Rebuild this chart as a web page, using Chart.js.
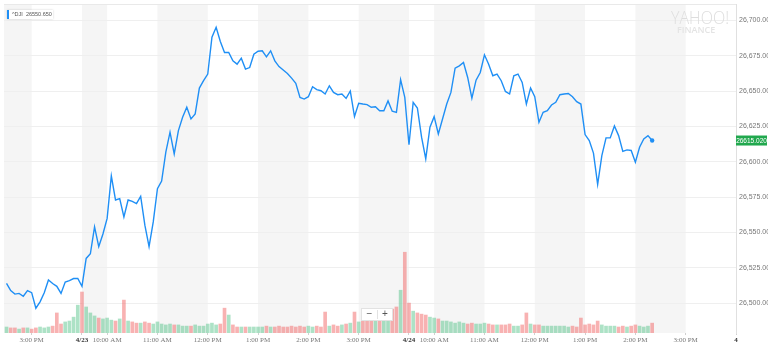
<!DOCTYPE html>
<html>
<head>
<meta charset="utf-8">
<script src="https://cdn.jsdelivr.net/npm/chart.js@4.4.1/dist/chart.umd.min.js"></script>
<style>
  html, body { margin: 0; padding: 0; background: #fff; }
  canvas { display: block; }
</style>
</head>
<body>
<canvas id="dji" width="768" height="345"></canvas>
<script>
// ^DJI two-day intraday view, 5-minute points on a trading-hours axis
// (0 = 3:00 PM on 4/22, overnight gaps collapsed)
const symbol = "^DJI";
const legendValue = "26550.650";

const stepHours = 5 / 60;
const day0Start = -0.5; // 2:30 PM 4/22
const day1Start = 1;    // 9:30 AM 4/23
const day2Start = 7.5;  // 9:30 AM 4/24

const day0Prices = [
  26514, 26509, 26506.5, 26507, 26505, 26509, 26507.5, 26496.5, 26501,
  26507.5, 26516.5, 26514, 26512, 26507, 26515, 26516, 26517.5, 26517.5,
];
const day1Prices = [
  26512, 26531.7, 26535, 26554, 26540, 26549, 26560, 26590, 26573, 26574,
  26561, 26573, 26572, 26570.4, 26575.6, 26555.2, 26540, 26557.5, 26581, 26586.4,
  26606.8, 26620.9, 26605.6, 26622, 26631.4, 26638.5, 26630.3, 26633.8, 26652.1, 26657.3,
  26662, 26688, 26695, 26685, 26677.2, 26677.2, 26671.3, 26669, 26673.2, 26665.5,
  26666.6, 26676, 26678.1, 26678.4, 26674.2, 26678.4, 26671.3, 26667.3, 26664.8, 26662.4,
  26659.1, 26655.4, 26645.5, 26644.3, 26646, 26653, 26651, 26650.2, 26647.9, 26653.7,
  26649, 26647.4, 26647.9, 26644.8, 26650, 26632, 26641.3, 26640.8, 26640.4, 26638.5,
  26638.9, 26636.1, 26636.1, 26643, 26635.7, 26634.9, 26658, 26645.5,
];
const day2Prices = [
  26612, 26642, 26638, 26617.4, 26602, 26624.4, 26631.9, 26619.7, 26630.2, 26640.8,
  26649, 26666.2, 26667.8, 26670.2, 26659.6, 26645, 26657.7, 26663.1, 26675.6, 26669,
  26660.8, 26662, 26657.3, 26649.7, 26647.9, 26660.8, 26662, 26656.1, 26640.8, 26652.1,
  26646, 26627.9, 26635, 26636.1, 26640.1, 26642, 26647.4, 26647.9, 26648.3, 26646,
  26642.5, 26640.8, 26619.2, 26615, 26606.1, 26584, 26604.4, 26616.9, 26616.9, 26625.3,
  26618.5, 26607.3, 26608.4, 26608, 26599.7, 26610.3, 26616.2, 26618.5, 26615.02,
];

// volume, millions of shares per bar
const day0Volume = [
  2.0, 1.7, 1.7, 1.3, 1.7, 1.7, 1.3, 1.7, 2.0, 1.7, 2.0, 2.3, 6.7, 3.0, 3.7, 4.0, 5.3, 9.3,
];
const day1Volume = [
  13.7, 8.7, 6.7, 5.7, 5.0, 4.7, 5.0, 4.3, 4.0, 4.7,
  11.0, 4.0, 3.7, 3.3, 3.3, 3.7, 3.3, 3.0, 3.7, 3.0,
  2.7, 3.0, 2.7, 2.7, 2.3, 2.3, 2.3, 2.7, 2.3, 2.3,
  3.0, 3.3, 2.7, 3.0, 8.3, 6.0, 2.7, 2.0, 2.0, 2.0,
  2.0, 2.0, 2.0, 2.0, 2.3, 2.0, 2.0, 2.3, 2.0, 2.0,
  2.3, 2.0, 2.3, 2.0, 2.3, 2.0, 2.3, 2.0, 7.0, 2.3,
  2.7, 2.3, 2.7, 3.0, 3.3, 7.0, 3.7, 4.0, 4.0, 4.3,
  4.7, 5.0, 5.3, 6.7, 8.0, 8.7, 14.3, 27.0,
];
const day2Volume = [
  10.0, 7.3, 6.7, 6.3, 6.0, 5.3, 5.0, 4.7, 4.0, 4.0,
  3.7, 3.3, 3.7, 3.3, 3.0, 3.3, 3.0, 3.0, 3.3, 3.0,
  2.7, 2.7, 2.7, 2.7, 3.0, 2.3, 2.3, 2.7, 6.7, 3.0,
  2.7, 2.7, 2.3, 2.3, 2.3, 2.3, 2.3, 2.3, 2.0, 2.3,
  2.0, 5.0, 2.7, 3.0, 2.7, 4.0, 2.7, 2.3, 2.3, 2.3,
  2.0, 2.3, 2.0, 2.3, 2.7, 2.3, 2.0, 2.3, 3.3,
];

const tickHours = [0, 1, 1.5, 2.5, 3.5, 4.5, 5.5, 6.5, 7.5, 8, 9, 10, 11, 12, 13, 14];
const tickLabels = [
  "3:00 PM", "4/23", "10:00 AM", "11:00 AM", "12:00 PM", "1:00 PM", "2:00 PM", "3:00 PM",
  "4/24", "10:00 AM", "11:00 AM", "12:00 PM", "1:00 PM", "2:00 PM", "3:00 PM", "4",
];
const dateTicks = ["4/23", "4/24", "4"];
const priceTicks = [26500, 26525, 26550, 26575, 26600, 26625, 26650, 26675, 26700];

const sessions = [
  [day0Start, day0Prices, day0Volume],
  [day1Start, day1Prices, day1Volume],
  [day2Start, day2Prices, day2Volume],
];

const pricePoints = [];
const volumePoints = [];
const volumeColors = [];
sessions.forEach(([start, prices, volumes]) => {
  prices.forEach((p, i) => {
    const x = start + i * stepHours;
    const prev = pricePoints.length ? pricePoints[pricePoints.length - 1].y : p;
    pricePoints.push({ x, y: p });
    volumePoints.push({ x, y: volumes[i] });
    volumeColors.push(p >= prev ? "rgba(60, 185, 120, 0.42)" : "rgba(240, 95, 95, 0.48)");
  });
});
const lastPrice = pricePoints[pricePoints.length - 1].y;

// alternating hour columns behind the plot
const bandsPlugin = {
  id: "bands",
  beforeDraw(chart) {
    const { ctx, chartArea: a, scales } = chart;
    const x = scales.x;
    ctx.save();
    ctx.fillStyle = "#fff";
    ctx.fillRect(0, 0, chart.width, chart.height);
    const edges = [x.min, ...tickHours.filter((h) => h < x.max), x.max];
    ctx.fillStyle = "#f5f5f5";
    for (let i = 0; i < edges.length - 1; i += 2) {
      const l = x.getPixelForValue(edges[i]);
      const r = x.getPixelForValue(edges[i + 1]);
      ctx.fillRect(l, a.top, r - l, a.bottom - a.top);
    }
    ctx.strokeStyle = "#e9e9e9";
    ctx.lineWidth = 1;
    ctx.beginPath();
    ctx.moveTo(a.left, a.top + 0.5);
    ctx.lineTo(a.right, a.top + 0.5);
    ctx.stroke();
    ctx.restore();
  },
};

// watermark, legend chip, last price tag, zoom buttons
const overlayPlugin = {
  id: "overlay",
  afterDraw(chart) {
    const { ctx, scales } = chart;
    ctx.save();

    ctx.fillStyle = "#dedede";
    ctx.textBaseline = "alphabetic";
    ctx.textAlign = "left";
    ctx.font = "300 19px 'Open Sans'";
    ctx.fillText("YAHOO!", 671, 24, 58);
    ctx.fillStyle = "#e4e4e4";
    ctx.font = "600 9px 'Open Sans'";
    ctx.fillText("FINANCE", 677, 33, 47);

    ctx.shadowColor = "rgba(0,0,0,0.18)";
    ctx.shadowBlur = 2;
    ctx.fillStyle = "#fff";
    ctx.fillRect(7, 10, 46, 9);
    ctx.shadowBlur = 0;
    ctx.fillStyle = "#1f8ff5";
    ctx.fillRect(7, 10, 2, 9);
    ctx.fillStyle = "#555";
    ctx.font = "5.5px 'Liberation Sans'";
    ctx.textBaseline = "middle";
    ctx.fillText(symbol + "  " + legendValue, 12, 14.8);

    const py = scales.y.getPixelForValue(lastPrice);
    ctx.fillStyle = "#21a84e";
    ctx.fillRect(736, py - 5, 31, 10);
    ctx.fillStyle = "#fff";
    ctx.font = "6.5px 'Liberation Sans'";
    ctx.textAlign = "center";
    ctx.fillText(lastPrice.toFixed(3), 751.5, py + 0.3);

    ctx.fillStyle = "#fff";
    ctx.strokeStyle = "#e2e2e2";
    ctx.fillRect(361, 308, 32, 13);
    ctx.strokeRect(361.5, 308.5, 31, 12);
    ctx.beginPath();
    ctx.moveTo(377.5, 310);
    ctx.lineTo(377.5, 319);
    ctx.stroke();
    ctx.fillStyle = "#555";
    ctx.font = "10px 'Liberation Sans'";
    ctx.fillText("\u2212", 369.5, 314.5);
    ctx.fillText("+", 385, 314.5);

    ctx.restore();
  },
};

new Chart(document.getElementById("dji"), {
  type: "line",
  data: {
    datasets: [
      {
        type: "line",
        data: pricePoints,
        yAxisID: "y",
        borderColor: "#1f8ff5",
        borderWidth: 1.4,
        tension: 0,
        pointRadius: (c) => (c.dataIndex === pricePoints.length - 1 ? 2.2 : 0),
        pointBackgroundColor: "#1f8ff5",
        pointBorderWidth: 0,
        order: 0,
      },
      {
        type: "bar",
        data: volumePoints,
        yAxisID: "vol",
        backgroundColor: volumeColors,
        barThickness: 3,
        order: 1,
      },
    ],
  },
  options: {
    responsive: false,
    animation: false,
    layout: { padding: { top: 3, left: 0 } },
    plugins: {
      legend: { display: false },
      tooltip: { enabled: false },
    },
    scales: {
      x: {
        type: "linear",
        min: -0.55,
        max: 14,
        offset: false,
        afterBuildTicks: (scale) => {
          scale.ticks = tickHours.map((value) => ({ value }));
        },
        afterFit: (scale) => {
          scale.height = 12;
          scale.paddingLeft = 0;
          scale.paddingRight = 0;
        },
        grid: { offset: false, drawOnChartArea: false, drawTicks: true, tickLength: 2, color: "#d0d0d0" },
        border: { display: false },
        ticks: {
          autoSkip: false,
          maxRotation: 0,
          padding: 1,
          callback: (value, index) => tickLabels[index],
          color: (c) => (dateTicks.includes(tickLabels[c.index]) ? "#333" : "#777"),
          font: (c) => ({
            family: "'Liberation Serif'",
            size: 7,
            weight: dateTicks.includes(tickLabels[c.index]) ? "bold" : "normal",
          }),
        },
      },
      y: {
        position: "right",
        min: 26479,
        max: 26711.5,
        afterBuildTicks: (scale) => {
          scale.ticks = priceTicks.map((value) => ({ value }));
        },
        afterFit: (scale) => {
          scale.width = 32;
          scale.paddingTop = 0;
          scale.paddingBottom = 0;
        },
        grid: { color: "#efefef", drawTicks: false },
        border: { display: true, color: "#e0e0e0" },
        ticks: {
          padding: 3,
          color: "#777",
          font: { family: "'Liberation Sans'", size: 7 },
          callback: (v) => v.toLocaleString("en-US") + ".000",
        },
      },
      vol: {
        display: false,
        min: 0,
        max: 110,
      },
    },
  },
  plugins: [bandsPlugin, overlayPlugin],
});
</script>
</body>
</html>
